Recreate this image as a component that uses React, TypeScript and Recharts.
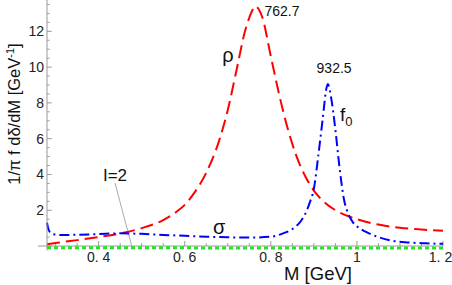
import { LineChart, Line, XAxis, YAxis, ReferenceLine, ReferenceDot } from "recharts"

// rho contribution (red dashed)
const rhoMass = [0.28, 0.3, 0.35, 0.4, 0.45, 0.5, 0.55, 0.58, 0.6, 0.62, 0.65, 0.68, 0.7, 0.72, 0.74, 0.76, 0.7627, 0.78, 0.8, 0.82, 0.84, 0.86, 0.88, 0.9, 0.92, 0.95, 1.0, 1.05, 1.1, 1.15, 1.2]
const rhoValue = [0.1, 0.17, 0.33, 0.5, 0.7, 1.0, 1.45, 1.9, 2.3, 2.9, 4.1, 5.9, 7.6, 9.8, 12.0, 13.3, 13.4, 12.8, 10.6, 8.4, 6.5, 5.0, 3.9, 3.1, 2.55, 2.0, 1.5, 1.2, 1.02, 0.92, 0.85]

// sigma + f0 contribution (blue dash-dot)
const scalarMass = [0.28, 0.283, 0.288, 0.295, 0.31, 0.35, 0.4, 0.45, 0.5, 0.55, 0.6, 0.65, 0.7, 0.75, 0.8, 0.83, 0.85, 0.87, 0.88, 0.89, 0.9, 0.91, 0.92, 0.93, 0.9325, 0.94, 0.95, 0.96, 0.97, 0.98, 0.99, 1.0, 1.02, 1.05, 1.08, 1.12, 1.16, 1.2]
const scalarValue = [1.3, 0.95, 0.75, 0.66, 0.62, 0.63, 0.67, 0.71, 0.68, 0.62, 0.57, 0.52, 0.49, 0.47, 0.52, 0.72, 0.95, 1.4, 1.8, 2.4, 3.2, 5.0, 7.0, 8.9, 9.05, 8.3, 6.5, 4.3, 2.6, 1.8, 1.35, 1.1, 0.8, 0.5, 0.3, 0.2, 0.15, 0.12]

// I=2 contribution (green dotted)
const isoMass = [0.28, 0.5, 0.8, 1.0, 1.2]
const isoValue = [-0.1, -0.1, -0.11, -0.11, -0.11]

const xMajorTicks = [0.4, 0.6, 0.8, 1.0, 1.2]
const xMinorTicks = [0.3, 0.35, 0.45, 0.5, 0.55, 0.65, 0.7, 0.75, 0.85, 0.9, 0.95, 1.05, 1.1, 1.15]
const yLabelTicks = [2, 4, 6, 8, 10, 12]
const yMajorTicks = [0, 2, 4, 6, 8, 10, 12]
const yMinorTicks = [0.5, 1, 1.5, 2.5, 3, 3.5, 4.5, 5, 5.5, 6.5, 7, 7.5, 8.5, 9, 9.5, 10.5, 11, 11.5, 12.5, 13, 13.5]

const toPoints = (ms: number[], vs: number[]) => ms.map((m, i) => ({ m, v: vs[i] }))
const rhoData = toPoints(rhoMass, rhoValue)
const scalarData = toPoints(scalarMass, scalarValue)
const isoData = toPoints(isoMass, isoValue)

const FONT = "'Liberation Sans', Arial, Helvetica, sans-serif"
const AXIS = "#999999"
const X0 = 0.28

const fmtX = (v: number) => (v === 1 ? "1" : v.toFixed(1).replace(".", ". "))

function XTick({ x, y, payload }: any) {
    const last = payload.value === 1.2
    return (
        <text x={last ? x - 1.5 : x} y={y} dy={11.5} textAnchor="middle" fontSize={14} fontFamily={FONT} fill="#222">
            {fmtX(payload.value)}
        </text>
    )
}

function YTick({ x, y, payload }: any) {
    return (
        <text x={x - 3} y={y} dy={5} textAnchor="end" fontSize={14} fontFamily={FONT} fill="#222">
            {payload.value}
        </text>
    )
}

function YTitle({ viewBox }: any) {
    const cx = viewBox.x + 14
    const cy = viewBox.y + 114
    return (
        <text transform={`translate(${cx}, ${cy}) rotate(-90)`} textAnchor="middle" dy={5.5} fontSize={16.5} fontFamily={FONT} fill="#111">
            1/π f dδ/dM [GeV<tspan dy={-6} fontSize={11}>-1</tspan><tspan dy={6}>]</tspan>
        </text>
    )
}

function XTitle({ viewBox }: any) {
    return (
        <text x={viewBox.x + 271} y={viewBox.y + 29.5} textAnchor="middle" fontSize={18.5} fontFamily={FONT} fill="#111">
            M [GeV]
        </text>
    )
}

const note = (text: string, size: number) => (props: any) => (
    <text x={props.cx} y={props.cy} dy={size * 0.35} textAnchor="middle" fontSize={size} fontFamily={FONT} fill="#111">
        {text}
    </text>
)

function F0Note(props: any) {
    return (
        <text x={props.cx} y={props.cy} dy={5} textAnchor="middle" fontSize={19} fontFamily={FONT} fill="#111">
            f<tspan dy={5} fontSize={13}>0</tspan>
        </text>
    )
}

export default function App() {
    return (
        <div style={{ position: "absolute", left: 0, top: 0, width: 452, height: 285, background: "#fff" }}>
            <LineChart width={452} height={285} margin={{ top: 0, right: 9, bottom: 0, left: 0 }}>
                <XAxis
                    type="number"
                    dataKey="m"
                    domain={[X0, 1.2]}
                    ticks={xMajorTicks}
                    axisLine={false}
                    tickLine={false}
                    tickSize={0}
                    tickMargin={0}
                    height={34.5}
                    tick={<XTick />}
                    label={{ content: <XTitle /> }}
                />
                <YAxis
                    type="number"
                    dataKey="v"
                    domain={[-0.25, 13.75]}
                    ticks={yLabelTicks}
                    axisLine={{ stroke: AXIS }}
                    tickLine={false}
                    tickSize={0}
                    tickMargin={0}
                    width={47}
                    tick={<YTick />}
                    label={{ content: <YTitle /> }}
                />
                <ReferenceLine segment={[{ x: 0.259, y: 0 }, { x: 1.2, y: 0 }]} stroke={AXIS} ifOverflow="visible" />
                {xMajorTicks.map((t) => (
                    <ReferenceLine key={"xM" + t} segment={[{ x: t, y: 0 }, { x: t, y: 0.28 }]} stroke={AXIS} ifOverflow="visible" />
                ))}
                {xMinorTicks.map((t) => (
                    <ReferenceLine key={"xm" + t} segment={[{ x: t, y: 0 }, { x: t, y: 0.16 }]} stroke={AXIS} ifOverflow="visible" />
                ))}
                {yMajorTicks.map((t) => (
                    <ReferenceLine key={"yM" + t} segment={[{ x: X0, y: t }, { x: X0 + 0.011, y: t }]} stroke={AXIS} ifOverflow="visible" />
                ))}
                {yMinorTicks.map((t) => (
                    <ReferenceLine key={"ym" + t} segment={[{ x: X0, y: t }, { x: X0 + 0.006, y: t }]} stroke={AXIS} ifOverflow="visible" />
                ))}
                <ReferenceLine segment={[{ x: 0.438, y: 3.52 }, { x: 0.4775, y: -0.05 }]} stroke="#aaaaaa" strokeWidth={1} ifOverflow="visible" />

                <Line data={isoData} dataKey="v" type="monotone" stroke="#22e622" strokeWidth={3} strokeDasharray="4 3" dot={false} isAnimationActive={false} />
                <Line data={rhoData} dataKey="v" type="monotone" stroke="#ff0000" strokeWidth={2} strokeDasharray="13 6" dot={false} isAnimationActive={false} />
                <Line data={scalarData} dataKey="v" type="monotone" stroke="#0000ff" strokeWidth={2} strokeDasharray="10 4 2 4" dot={false} isAnimationActive={false} />

                <ReferenceDot x={0.826} y={13.13} r={1} shape={note("762.7", 14)} ifOverflow="visible" />
                <ReferenceDot x={0.947} y={9.94} r={1} shape={note("932.5", 14)} ifOverflow="visible" />
                <ReferenceDot x={0.7005} y={10.65} r={1} shape={note("ρ", 20)} ifOverflow="visible" />
                <ReferenceDot x={0.68} y={1.05} r={1} shape={note("σ", 20)} ifOverflow="visible" />
                <ReferenceDot x={0.438} y={3.97} r={1} shape={note("I=2", 17)} ifOverflow="visible" />
                <ReferenceDot x={0.975} y={7.25} r={1} shape={F0Note} ifOverflow="visible" />
            </LineChart>
        </div>
    )
}
